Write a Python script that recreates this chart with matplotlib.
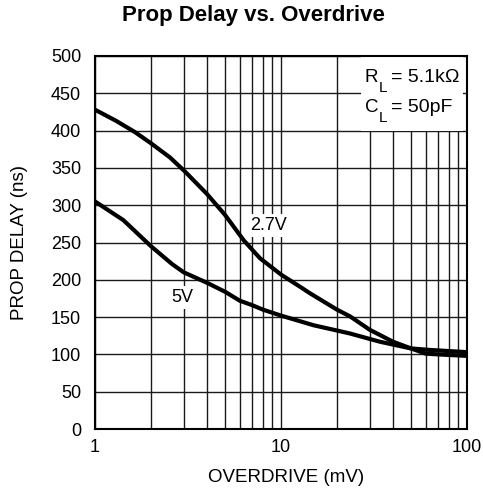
import numpy as np
import matplotlib
matplotlib.use('Agg')
import matplotlib.pyplot as plt
from matplotlib.ticker import FixedLocator, LogLocator, NullFormatter, FixedFormatter

plt.rcParams['font.family'] = ['Liberation Sans', 'DejaVu Sans']

# 读取自参考图的数据
overdrive_27 = [1, 1.3, 1.64, 2, 2.53, 3.05, 4, 5, 6.3, 7.7, 10, 12.6, 14.3, 20, 23.5, 30, 40, 50, 60, 70, 100]
delay_27 = [428, 413, 398, 383, 364, 345, 315, 287, 253, 229, 207, 191, 182, 160, 151, 133, 117, 108, 101, 100, 98]

overdrive_5 = [1, 1.42, 2, 2.6, 3, 4, 5, 6, 7, 8, 10, 15, 20, 23.5, 34, 50, 63, 100]
delay_5 = [305, 280, 245, 221, 210, 196, 184, 172, 166, 160, 152, 139, 132, 128, 117, 108, 106, 103]

x_ticks = [1, 10, 100]
x_tick_labels = ['1', '10', '100']
y_ticks = list(range(0, 501, 50))

W, H = 483, 493
fig = plt.figure(figsize=(W / 100, H / 100), dpi=100)
ax = fig.add_axes([95 / W, 64 / H, 372 / W, 373 / H])

ax.set_xscale('log')
ax.set_xlim(1, 100)
ax.set_ylim(0, 500)

# 网格线
ax.set_axisbelow(True)
ax.xaxis.set_major_locator(FixedLocator(x_ticks))
ax.xaxis.set_major_formatter(FixedFormatter(x_tick_labels))
ax.xaxis.set_minor_locator(LogLocator(base=10, subs=np.arange(2, 10)))
ax.xaxis.set_minor_formatter(NullFormatter())
ax.set_yticks(y_ticks)
ax.xaxis.grid(True, which='both', color='#1a1a1a', lw=1.0)
ax.yaxis.grid(True, which='major', color='#1a1a1a', lw=1.0)

ax.tick_params(which='both', length=0, labelsize=13, colors='black')
ax.tick_params(axis='y', pad=10)
ax.tick_params(axis='x', pad=7)

for s in ax.spines.values():
    s.set_linewidth(1.5)
    s.set_color('black')

# 曲线
ax.plot(overdrive_27, delay_27, color='black', lw=3.0, zorder=3, solid_capstyle='butt')
ax.plot(overdrive_5, delay_5, color='black', lw=3.0, zorder=3, solid_capstyle='butt')

# 曲线标签
label_box = dict(facecolor='white', edgecolor='none', pad=2)
ax.text(8.57, 273, '2.7V', fontsize=13, ha='center', va='center', bbox=label_box, zorder=4)
ax.text(2.95, 176, '5V', fontsize=13, ha='center', va='center', bbox=label_box, zorder=4)

# 右上角的条件框（白底，盖住网格）
ax.fill_between([26.8, 94.8], 400, 499, color='white', lw=0, zorder=2)
for sym, val, yb in [('R', '= 5.1k\u03a9', 0.931), ('C', '= 50pF', 0.851)]:
    ax.annotate(sym, xy=(0.7258, yb), xycoords='axes fraction', fontsize=13.5,
                ha='left', va='baseline', zorder=4)
    ax.annotate('L', xy=(0.7258, yb), xycoords='axes fraction', xytext=(10, -7.2),
                textcoords='offset points', fontsize=11, ha='left', va='baseline', zorder=4)
    ax.annotate(val, xy=(0.7258, yb), xycoords='axes fraction', xytext=(18.5, 0),
                textcoords='offset points', fontsize=14, ha='left', va='baseline', zorder=4)

fig.text(253 / W, 1 - 16 / H, 'Prop Delay vs. Overdrive', fontsize=16, fontweight='bold',
         ha='center', va='center')
fig.text(286 / W, 1 - 477 / H, 'OVERDRIVE (mV)', fontsize=13.5, ha='center', va='center')
fig.text(20 / W, 1 - 242 / H, 'PROP DELAY (ns)', fontsize=13.5, ha='center', va='center',
         rotation=90)

fig.savefig('out.png', dpi=100)
